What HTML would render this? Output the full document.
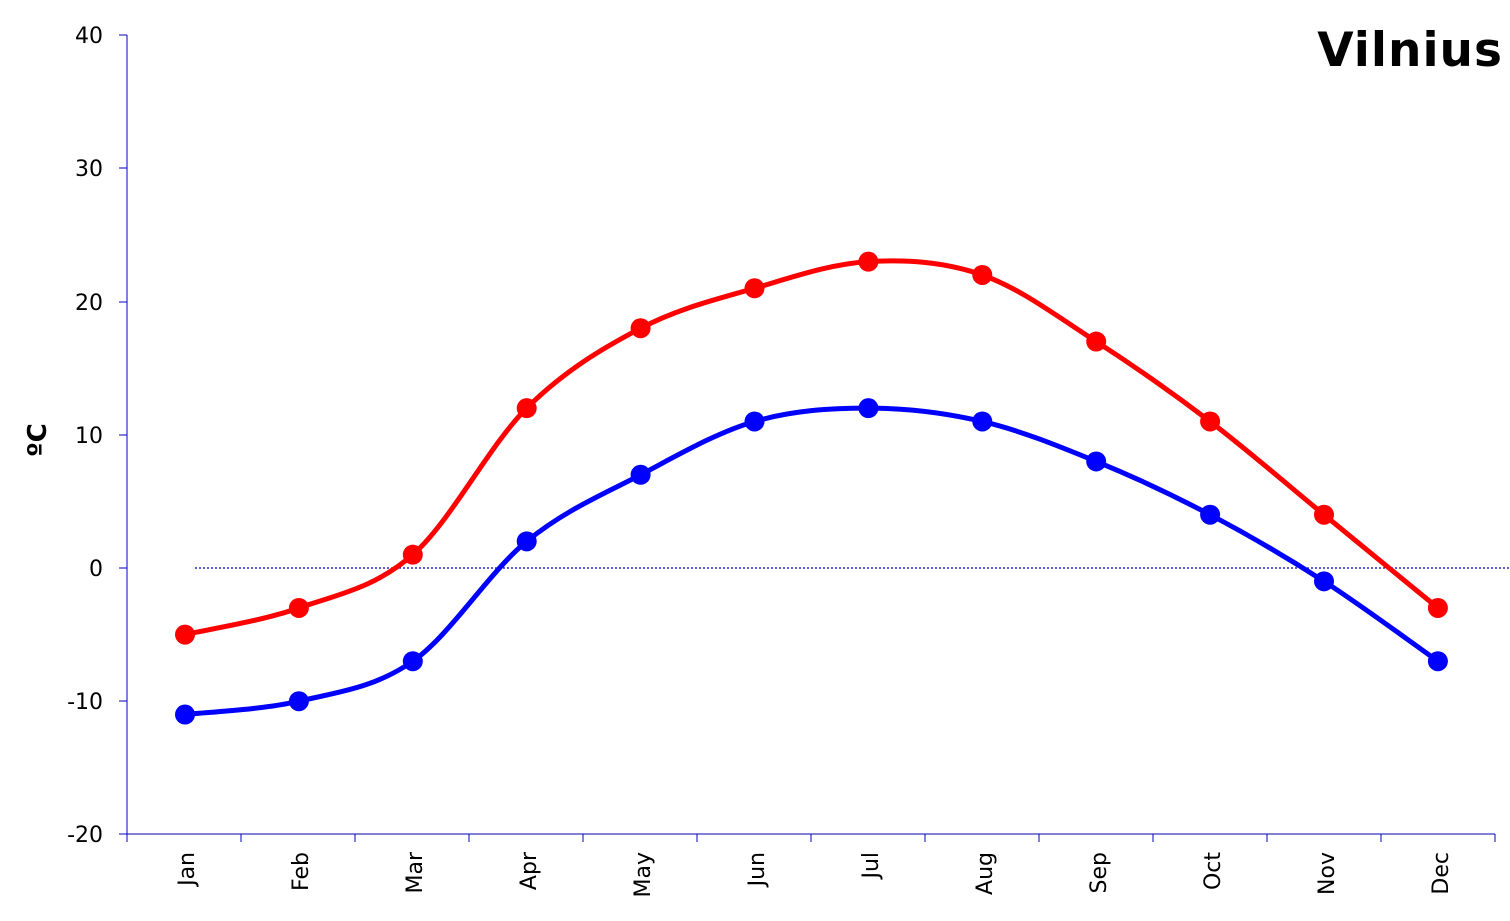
<!DOCTYPE html>
<html><head><meta charset="utf-8"><style>
html,body{margin:0;padding:0;background:#fff;}
svg{display:block;font-family:"DejaVu Sans","Liberation Sans",sans-serif;}
</style></head><body>
<svg id="c" width="1510" height="921" viewBox="0 0 1510 921">
<g stroke="#0000bb" stroke-width="1" shape-rendering="crispEdges">
<line x1="127" y1="35" x2="127" y2="834"/>
<line x1="127" y1="834" x2="1495" y2="834"/>
<line x1="119" y1="35" x2="127" y2="35"/>
<line x1="119" y1="168" x2="127" y2="168"/>
<line x1="119" y1="302" x2="127" y2="302"/>
<line x1="119" y1="435" x2="127" y2="435"/>
<line x1="119" y1="568" x2="127" y2="568"/>
<line x1="119" y1="701" x2="127" y2="701"/>
<line x1="119" y1="834" x2="127" y2="834"/>
</g>
<g id="xt" stroke="#0000bb" stroke-width="1" shape-rendering="crispEdges"></g>
<line x1="195" y1="568" x2="1510" y2="568" stroke="#0000aa" stroke-width="1.3" stroke-dasharray="2,2"/>
<g font-size="22" text-anchor="end" fill="#000">
<text x="103" y="43">40</text>
<text x="103" y="176">30</text>
<text x="103" y="310">20</text>
<text x="103" y="443">10</text>
<text x="103" y="576">0</text>
<text x="103" y="709">-10</text>
<text x="103" y="842">-20</text>
</g>
<text x="0" y="0" font-size="26" font-weight="bold" transform="translate(46,440) rotate(-90)" text-anchor="middle">ºC</text>
<text x="1503" y="66" font-size="47" font-weight="bold" text-anchor="end" letter-spacing="1">Vilnius</text>
<g font-size="22" text-anchor="end">
<text transform="translate(194,852) rotate(-90)">Jan</text>
<text transform="translate(308,852) rotate(-90)">Feb</text>
<text transform="translate(422,852) rotate(-90)">Mar</text>
<text transform="translate(536,852) rotate(-90)">Apr</text>
<text transform="translate(650,852) rotate(-90)">May</text>
<text transform="translate(764,852) rotate(-90)">Jun</text>
<text transform="translate(878,852) rotate(-90)">Jul</text>
<text transform="translate(992,852) rotate(-90)">Aug</text>
<text transform="translate(1106,852) rotate(-90)">Sep</text>
<text transform="translate(1220,852) rotate(-90)">Oct</text>
<text transform="translate(1334,852) rotate(-90)">Nov</text>
<text transform="translate(1448,852) rotate(-90)">Dec</text>
</g>
<g id="series"></g>
</svg>
<script>
var ns="http://www.w3.org/2000/svg";
var xt=document.getElementById('xt');
for(var i=0;i<=12;i++){var l=document.createElementNS(ns,'line');var x=127+i*114;l.setAttribute('x1',x);l.setAttribute('x2',x);l.setAttribute('y1',834);l.setAttribute('y2',842);xt.appendChild(l);}
function Y(v){return 568-13.32*v;}
function X(i){return 185+i*113.9;}
var data=[["#ff0000",[-5,-3,1,12,18,21,23,22,17,11,4,-3]],["#0000ff",[-11,-10,-7,2,7,11,12,11,8,4,-1,-7]]];
var g=document.getElementById('series');
data.forEach(function(s){
 var p=s[1].map(function(v,i){return [X(i),Y(v)];});
 var d="M"+p[0][0]+","+p[0][1];
 for(var i=0;i<p.length-1;i++){
  var p0=p[i-1]||p[i],p1=p[i],p2=p[i+1],p3=p[i+2]||p[i+1];
  var t=6;
  d+=" C"+(p1[0]+(p2[0]-p0[0])/t)+","+(p1[1]+(p2[1]-p0[1])/t)+" "+(p2[0]-(p3[0]-p1[0])/t)+","+(p2[1]-(p3[1]-p1[1])/t)+" "+p2[0]+","+p2[1];
 }
 var path=document.createElementNS(ns,'path');path.setAttribute('d',d);path.setAttribute('fill','none');path.setAttribute('stroke',s[0]);path.setAttribute('stroke-width','5');g.appendChild(path);
 p.forEach(function(q){var c=document.createElementNS(ns,'circle');c.setAttribute('cx',q[0]);c.setAttribute('cy',q[1]);c.setAttribute('r','10');c.setAttribute('fill',s[0]);g.appendChild(c);});
});
</script>
</body></html>
